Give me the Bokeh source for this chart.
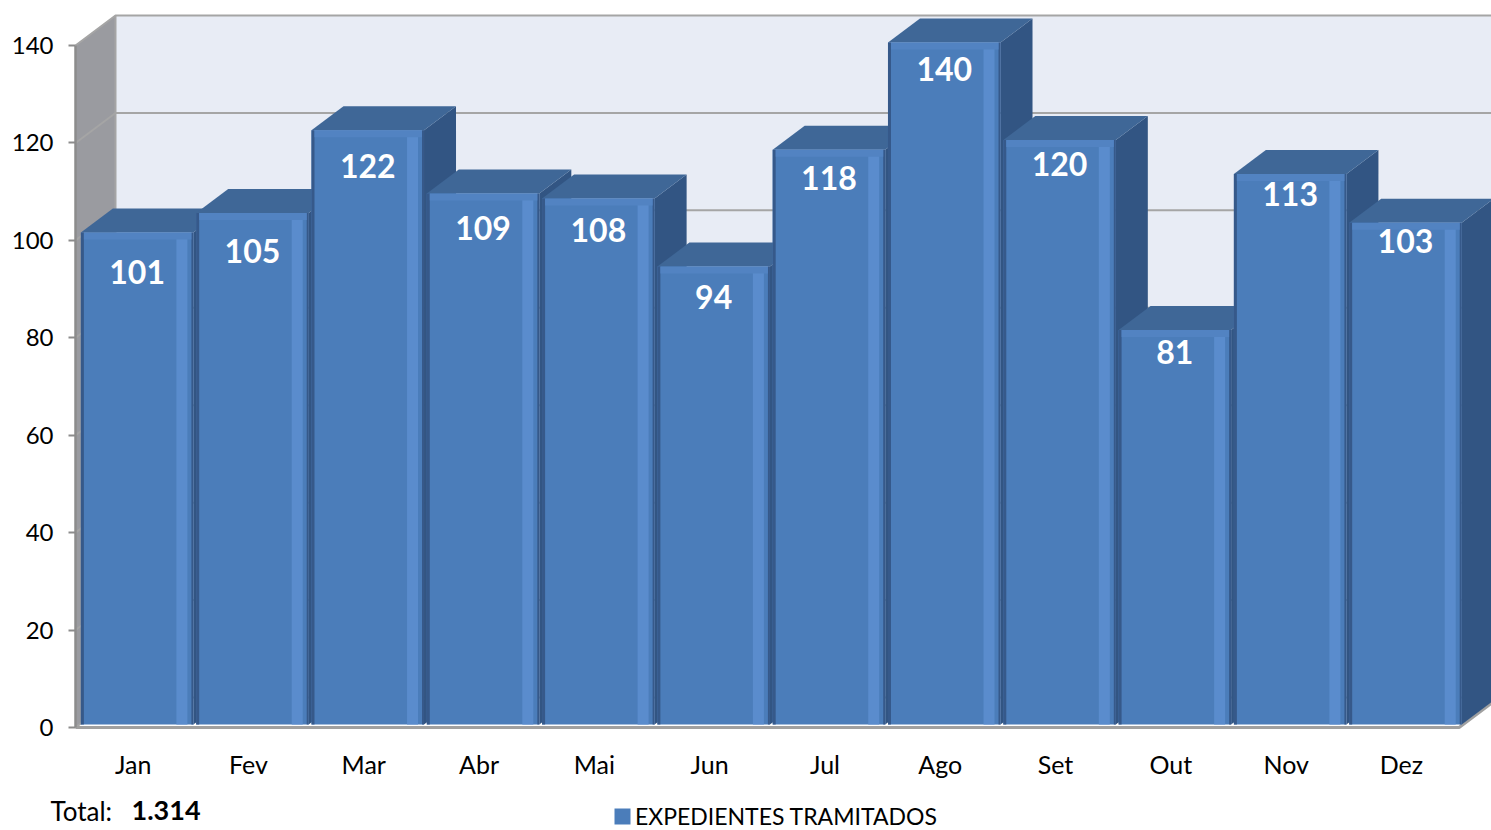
from bokeh.plotting import figure
from bokeh.models import Range1d, FixedTicker, Label, Legend, LegendItem, ColumnDataSource
from bokeh.core.properties import value
from bokeh.embed import file_html
from bokeh.resources import INLINE

# ---------------- data ----------------
months = ["Jan", "Fev", "Mar", "Abr", "Mai", "Jun", "Jul", "Ago", "Set", "Out", "Nov", "Dez"]
expedientes = [101, 105, 122, 109, 108, 94, 118, 140, 120, 81, 113, 103]
y_ticks = [0, 20, 40, 60, 80, 100, 120, 140]
series_name = "EXPEDIENTES TRAMITADOS"
total_caption = "Total:"
total_value = f"{sum(expedientes):,}".replace(",", ".")

# ---------------- layout / style ----------------
W, H = 1491, 830
X0PX, Y0PX = 75, 727            # pixel position of the front-left floor corner
SX, SY = 115.3, 4.8714          # px per category / px per unit
DX, DY = 40 / SX, 30 / SY       # full depth of the 3-D box in data units
Z0, Z1 = 0.1, 0.9               # depth position of the bars
GAP = 0.012
FONT = "Lato"
n = len(months)
YTOP = y_ticks[-1]

FRONT = "#4B7DBA"
TOP = "#3F6797"
SIDE = "#325583"
EDGE_DARK = "#36598A"
HILITE = "#5A8CCD"
RIM = "#5283C2"

x_range = Range1d(-X0PX / SX, (W - X0PX) / SX)
y_range = Range1d(-(H - Y0PX) / SY, Y0PX / SY)

p = figure(width=W, height=H, x_range=x_range, y_range=y_range,
           output_backend="svg", toolbar_location=None, x_axis_location=None,
           min_border_left=0, min_border_right=0, min_border_top=0, min_border_bottom=0)
p.grid.visible = False
p.outline_line_color = None
p.background_fill_color = "white"
p.border_fill_color = "white"

ax = p.yaxis[0]
ax.fixed_location = 0
ax.ticker = FixedTicker(ticks=y_ticks)
ax.axis_line_color = None
ax.major_tick_line_color = "#8C8C8C"
ax.major_tick_line_width = 2
ax.major_tick_out = 7
ax.major_tick_in = 0
ax.minor_tick_line_color = None
ax.major_label_text_font = FONT
ax.major_label_text_font_size = "24px"
ax.major_label_text_color = "#000000"
ax.major_label_standoff = 15

# walls and floor
far = x_range.end + 1
p.patch([DX, far, far, DX], [DY, DY, YTOP + DY, YTOP + DY], fill_color="#E8ECF5", line_color=None)
p.patch([0, DX, DX, 0], [0, DY, YTOP + DY, YTOP], fill_color="#9A9BA0", line_color=None)
p.patch([0, n, n + DX, DX], [0, 0, DY, DY], fill_color="white", line_color=None)
for t in y_ticks:
    p.line([0, DX, far], [t, t + DY, t + DY], line_color="#A5A5A5", line_width=2)
p.line([DX, DX], [DY, YTOP + DY], line_color="#A5A5A5", line_width=2)
p.line([0, n, n + DX], [0, 0, DY], line_color="#A0A0A0", line_width=3)
p.line([0, 0], [0, YTOP], line_color="#8C8C8C", line_width=2.5)

# bars (painter's order, left to right)
xs, ys, cols = [], [], []
front_index = None
label_x, label_y = [], []
dxb, dyb = (Z1 - Z0) * DX, (Z1 - Z0) * DY
for i, v in enumerate(expedientes):
    x0 = i + GAP + Z0 * DX
    x1 = i + 1 - GAP + Z0 * DX
    yb = Z0 * DY
    yt = v + Z0 * DY
    xs.append([x1, x1 + dxb, x1 + dxb, x1]); ys.append([yb, yb + dyb, yt + dyb, yt]); cols.append(SIDE)
    xs.append([x0, x1, x1 + dxb, x0 + dxb]); ys.append([yt, yt, yt + dyb, yt + dyb]); cols.append(TOP)
    if front_index is None:
        front_index = len(xs)
    xs.append([x0, x1, x1, x0]); ys.append([yb, yb, yt, yt]); cols.append(FRONT)
    a, b = x0, x0 + 3 / SX
    xs.append([a, b, b, a]); ys.append([yb, yb, yt, yt]); cols.append(EDGE_DARK)
    a, b = x1 - 17 / SX, x1 - 6 / SX
    xs.append([a, b, b, a]); ys.append([yb, yb, yt - 4 / SY, yt - 4 / SY]); cols.append(HILITE)
    a, b = x1 - 2 / SX, x1
    xs.append([a, b, b, a]); ys.append([yb, yb, yt, yt]); cols.append(EDGE_DARK)
    xs.append([x0 + 3 / SX, x1 - 2 / SX, x1 - 2 / SX, x0 + 3 / SX])
    ys.append([yt - 7 / SY, yt - 7 / SY, yt, yt]); cols.append(RIM)
    label_x.append((x0 + x1) / 2)
    label_y.append(yt - (40 - 2.0 * i) / SY)

src = ColumnDataSource(dict(xs=xs, ys=ys, c=cols))
bars = p.patches("xs", "ys", source=src, fill_color="c", line_color=None)

p.text(x=label_x, y=label_y, text=[str(v) for v in expedientes],
       text_font=value(FONT), text_font_style="bold", text_font_size="32px",
       text_color="white", text_align="center", text_baseline="middle")

p.text(x=[i + 0.5 for i in range(n)], y=[-(36 / SY)] * n, text=months,
       text_font=value(FONT), text_font_size="25px", text_color="#000000",
       text_align="center", text_baseline="middle")

p.add_layout(Label(x=-25 / SX, y=-83 / SY, text=total_caption, text_font=FONT,
                   text_font_size="26px", text_color="#000000", text_baseline="middle"))
p.add_layout(Label(x=56 / SX, y=-83 / SY, text=total_value, text_font=FONT,
                   text_font_style="bold", text_font_size="27px", text_color="#000000",
                   text_baseline="middle"))

legend = Legend(items=[LegendItem(label=series_name, renderers=[bars], index=front_index)],
                location=(612, 0), orientation="horizontal",
                glyph_width=20, glyph_height=20, label_standoff=3, padding=0, margin=0,
                spacing=0, border_line_color=None, background_fill_alpha=0,
                label_text_font=FONT, label_text_font_size="23px", label_text_color="#000000")
p.add_layout(legend)

open("out.html", "w").write(file_html(p, INLINE))
